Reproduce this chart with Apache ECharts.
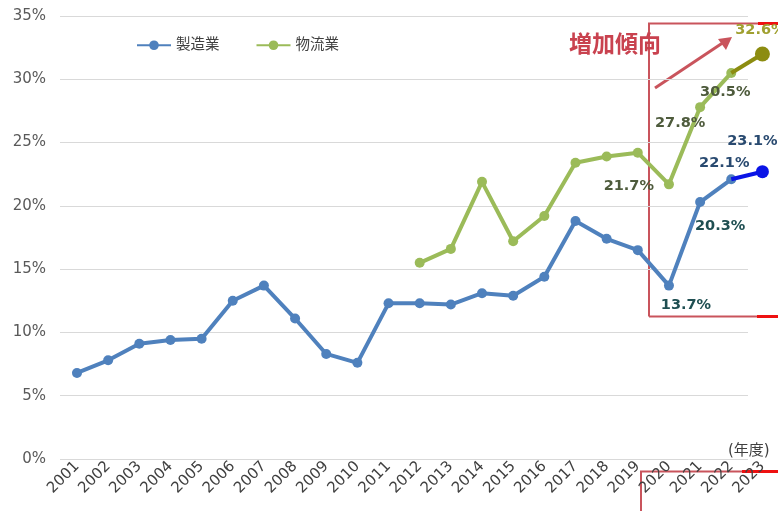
<!DOCTYPE html>
<html><head><meta charset="utf-8">
<script src="https://cdn.jsdelivr.net/npm/echarts@6/dist/echarts.min.js"></script>
<style>html,body{margin:0;padding:0;background:#fff}#c{width:778px;height:511px}</style>
</head><body><div id="c"></div>
<script>
const years = ['2001','2002','2003','2004','2005','2006','2007','2008','2009','2010','2011','2012','2013','2014','2015','2016','2017','2018','2019','2020','2021','2022','2023'];
const seriesNames = ['製造業','物流業'];
const manufacturing = [6.8,7.8,9.1,9.4,9.5,12.5,13.7,11.1,8.3,7.6,12.3,12.3,12.2,13.1,12.9,14.4,18.8,17.4,16.5,13.7,20.3,22.1,22.7];
const logistics = [null,null,null,null,null,null,null,null,null,null,null,15.5,16.6,21.9,17.2,19.2,23.4,23.9,24.2,21.7,27.8,30.5,32.0];
const manufacturingLabels = {2020:'13.7%',2021:'20.3%',2022:'22.1%',2023:'23.1%'};
const logisticsLabels = {2020:'21.7%',2021:'27.8%',2022:'30.5%',2023:'32.6%'};
const yTicks = [0,5,10,15,20,25,30,35];
const unitLabel = '(年度)';
const noteLabel = '増加傾向';

const F = "'DejaVu Sans','Noto Sans CJK JP',sans-serif";
const BLUE = '#4f81bd', GREEN = '#9bbb59', BLUE2 = '#0a14e6', GREEN2 = '#8c8c10';
const RED = '#c9545c';

const n = years.length;
const lastIdx = n - 1;
const mLabelStyle = {
  2020:{position:'bottom',offset:[17,2],color:'#1f4f52'},
  2021:{position:'bottom',offset:[20,7],color:'#1f4f52'},
  2022:{position:'top',offset:[-7,1],color:'#294a70'},
  2023:{position:'top',offset:[-10,-12],color:'#294a70'}
};
const lLabelStyle = {
  2020:{position:'left',offset:[-5,2],color:'#4e5b3c'},
  2021:{position:'bottom',offset:[-20,-1],color:'#4e5b3c'},
  2022:{position:'bottom',offset:[-6,2],color:'#4e5b3c'},
  2023:{position:'top',offset:[-2,-4],color:'#a0a030'}
};
function build(vals, labels, styles, from, to){
  return vals.map((v,i)=>{
    if(i<from||i>to) return null;
    const y = years[i];
    const o = {value:v};
    if(labels[y] && styles[y]){
      o.label = Object.assign({show:true,formatter:labels[y],fontFamily:F,fontWeight:'bold',fontSize:14.5}, styles[y]);
    }
    return o;
  });
}
const chart = echarts.init(document.getElementById('c'));
chart.setOption({
  animation:false,
  backgroundColor:'#fff',
  legend:{
    data:seriesNames, left:131, top:33, itemWidth:34, itemHeight:12, itemGap:36,
    textStyle:{fontFamily:F,fontSize:14.5,color:'#404040'}
  },
  grid:[
    {left:60, right:30, top:16, bottom:52},
    {left:61.4, width:717.6, top:16, bottom:52}
  ],
  xAxis:[
    {gridIndex:0, type:'value', show:false, min:0, max:1},
    {gridIndex:1, type:'category', data:years, boundaryGap:true,
     axisLine:{show:false}, axisTick:{show:false},
     axisLabel:{rotate:45, interval:0, fontFamily:F, fontSize:15, color:'#404040', margin:5}}
  ],
  yAxis:[
    {gridIndex:0, type:'value', min:0, max:35, interval:5,
     axisLine:{show:false}, axisTick:{show:false},
     splitLine:{lineStyle:{color:'#d9d9d9',width:1}},
     axisLabel:{formatter:v=>yTicks.includes(v)?v+'%':'', fontFamily:F, fontSize:15, color:'#595959', margin:14}},
    {gridIndex:1, type:'value', min:0, max:35, show:false, splitLine:{show:false}}
  ],
  series:[
    {name:seriesNames[0], type:'line', xAxisIndex:1, yAxisIndex:1,
     data:build(manufacturing, manufacturingLabels, mLabelStyle, 0, lastIdx-1),
     color:BLUE, lineStyle:{width:4,color:BLUE}, symbol:'circle', symbolSize:10,
     itemStyle:{color:BLUE}, z:3},
    {name:seriesNames[1], type:'line', xAxisIndex:1, yAxisIndex:1,
     data:build(logistics, logisticsLabels, lLabelStyle, 0, lastIdx-1),
     color:GREEN, lineStyle:{width:4,color:GREEN}, symbol:'circle', symbolSize:10,
     itemStyle:{color:GREEN}, z:3},
    {name:'m2', type:'line', xAxisIndex:1, yAxisIndex:1,
     data:build(manufacturing, manufacturingLabels, mLabelStyle, lastIdx-1, lastIdx).map((d,i)=> i===lastIdx-1 ? {value:d.value} : d),
     lineStyle:{width:4,color:BLUE2}, symbol:'circle',
     symbolSize:(v,p)=>p.dataIndex===lastIdx?13:0, itemStyle:{color:BLUE2}, z:4},
    {name:'l2', type:'line', xAxisIndex:1, yAxisIndex:1,
     data:build(logistics, logisticsLabels, lLabelStyle, lastIdx-1, lastIdx).map((d,i)=> i===lastIdx-1 ? {value:d.value} : d),
     lineStyle:{width:4,color:GREEN2}, symbol:'circle',
     symbolSize:(v,p)=>p.dataIndex===lastIdx?15:0, itemStyle:{color:GREEN2}, z:4}
  ],
  graphic:[
    {type:'polyline', shape:{points:[[649,316.5],[649,23.5],[758,23.5]]}, style:{stroke:RED,lineWidth:2,fill:null}, silent:true},
    {type:'line', shape:{x1:758,y1:23.5,x2:778,y2:23.5}, style:{stroke:'#ee1111',lineWidth:3}, silent:true},
    {type:'line', shape:{x1:649,y1:316.5,x2:757,y2:316.5}, style:{stroke:RED,lineWidth:2}, silent:true},
    {type:'line', shape:{x1:757,y1:316.5,x2:778,y2:316.5}, style:{stroke:'#ee1111',lineWidth:3}, silent:true},
    {type:'polyline', shape:{points:[[641,512],[641,471.5],[742,471.5]]}, style:{stroke:RED,lineWidth:2,fill:null}, silent:true},
    {type:'line', shape:{x1:742,y1:471.5,x2:778,y2:471.5}, style:{stroke:'#ee1111',lineWidth:3}, silent:true},
    {type:'line', shape:{x1:655,y1:88,x2:724,y2:42}, style:{stroke:RED,lineWidth:3}, silent:true},
    {type:'polygon', shape:{points:[[732,37],[718,39],[726,50]]}, style:{fill:RED}, silent:true},
    {type:'text', left:569, top:35, style:{text:noteLabel, fontFamily:F, fontSize:23, fontWeight:'bold', fill:'#c9424f'}, silent:true},
    {type:'text', left:728, top:444, style:{text:unitLabel, fontFamily:F, fontSize:15, fill:'#404040'}, silent:true}
  ]
});
</script></body></html>
